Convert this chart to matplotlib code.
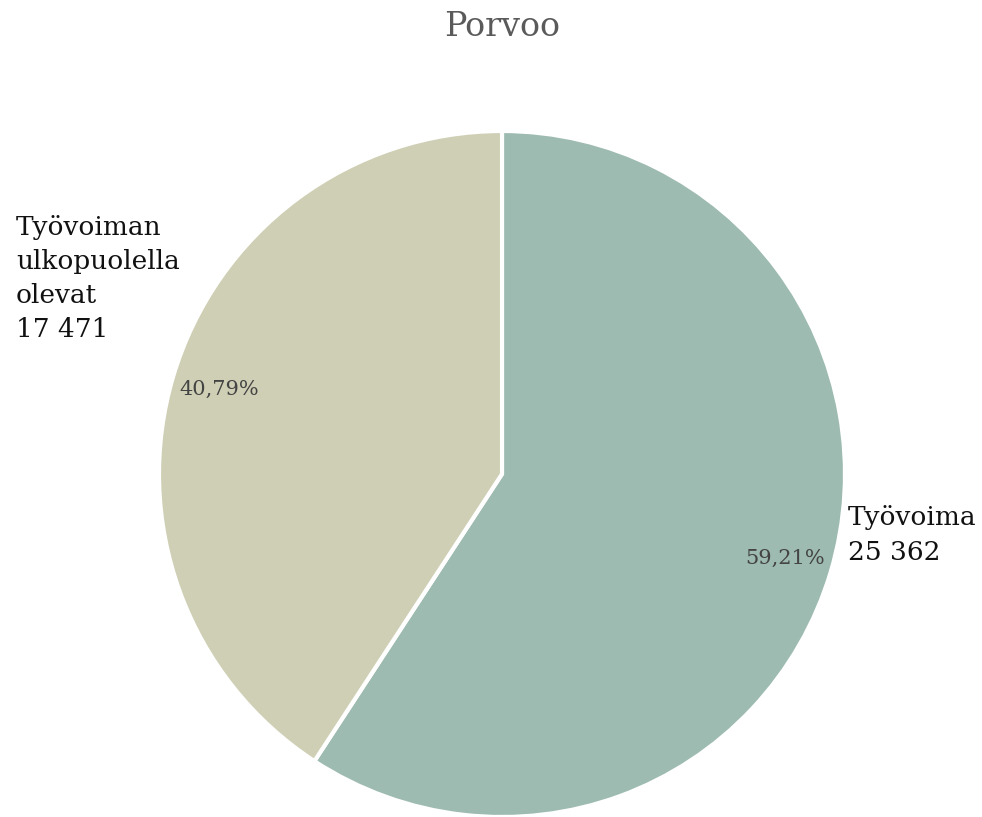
import matplotlib
matplotlib.use("Agg")
import matplotlib.pyplot as plt

TITLE = "Porvoo"
CATEGORIES = ["Työvoima", "Työvoiman\nulkopuolella\nolevat"]
VALUES = [25362, 17471]
COLORS = ["#9dbbb0", "#cfcfb5"]

W, H = 982, 817
CENTER = (502, 343)  # pixel coords, y up
RADIUS = 343


def fmt_int(v):
    return f"{v:,}".replace(",", " ")


def fmt_pct(p):
    return f"{p:.2f}%".replace(".", ",")


def main():
    plt.rcParams["font.family"] = ["DejaVu Serif"]
    fig = plt.figure(figsize=(W / 100, H / 100), dpi=100)
    ax = fig.add_axes([0, 0, 1, 1])

    wedges, texts, autotexts = ax.pie(
        VALUES,
        colors=COLORS,
        startangle=90,
        counterclock=False,
        center=CENTER,
        radius=RADIUS,
        autopct=fmt_pct,
        pctdistance=0.86,
        wedgeprops=dict(edgecolor="white", linewidth=3),
        textprops=dict(color="#444444", fontsize=15),
        frame=False,
    )
    ax.set_xlim(0, W)
    ax.set_ylim(0, H)
    ax.set_aspect("equal")
    ax.axis("off")

    # outer labels
    ax.text(848, H - 535, f"{CATEGORIES[0]}\n{fmt_int(VALUES[0])}",
            ha="left", va="center", fontsize=19, color="#111111", linespacing=1.45)
    ax.text(16, H - 278, f"{CATEGORIES[1]}\n{fmt_int(VALUES[1])}",
            ha="left", va="center", fontsize=19, color="#111111", linespacing=1.45)

    ax.text(W / 2 + 11, H - 27, TITLE, ha="center", va="center",
            fontsize=24, color="#5a5a5a")

    fig.savefig("out.png", dpi=100)


if __name__ == "__main__":
    main()
